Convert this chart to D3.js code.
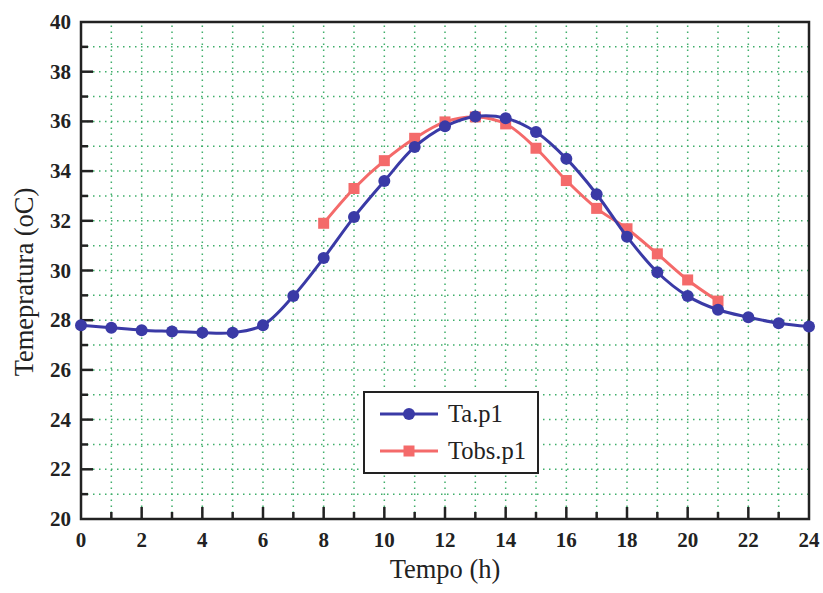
<!DOCTYPE html>
<html>
<head>
<meta charset="utf-8">
<script src="https://cdn.jsdelivr.net/npm/d3@7"></script>
<style>
  body { margin: 0; background: #fff; }
  text { font-family: "Liberation Serif", "DejaVu Serif", serif; fill: #222; }
</style>
</head>
<body>
<div id="chart"></div>
<script>
const W = 823, H = 593;
const margin = { top: 22, right: 14, bottom: 74, left: 81 };

// data
const hours = d3.range(0, 25);
const taP1 = [27.8, 27.7, 27.6, 27.55, 27.5, 27.5, 27.8, 28.97, 30.5, 32.15, 33.6, 34.97,
  35.8, 36.2, 36.13, 35.57, 34.5, 33.07, 31.36, 29.93, 28.97, 28.42, 28.12, 27.88, 27.75];
const tobsHours = d3.range(8, 22);
const tobsP1 = [31.9, 33.3, 34.42, 35.32, 35.98, 36.18, 35.9, 34.92, 33.62, 32.5, 31.68,
  30.67, 29.62, 28.77];
const xTicks = d3.range(0, 25, 2);
const yTicks = d3.range(20, 41, 2);

const blue = "#3a3aa6", red = "#f46a6a", gridColor = "#3fae6a";

const svg = d3.select("#chart").append("svg").attr("width", W).attr("height", H);

const x = d3.scaleLinear().domain([0, 24]).range([margin.left, W - margin.right]);
const y = d3.scaleLinear().domain([20, 40]).range([H - margin.bottom, margin.top]);

// dotted grid every unit
const grid = svg.append("g");
grid.selectAll("line.v").data(d3.range(1, 24)).enter().append("line")
  .attr("x1", d => x(d)).attr("x2", d => x(d))
  .attr("y1", y(20)).attr("y2", y(40))
  .attr("stroke", gridColor).attr("stroke-width", 1.5).attr("stroke-dasharray", "1.5,4.5");
grid.selectAll("line.h").data(d3.range(21, 40)).enter().append("line")
  .attr("y1", d => y(d)).attr("y2", d => y(d))
  .attr("x1", x(0)).attr("x2", x(24))
  .attr("stroke", gridColor).attr("stroke-width", 1.5).attr("stroke-dasharray", "1.5,4.5");

// frame
svg.append("rect")
  .attr("x", x(0)).attr("y", y(40))
  .attr("width", x(24) - x(0)).attr("height", y(20) - y(40))
  .attr("fill", "none").attr("stroke", "#222").attr("stroke-width", 2.5);

// inward ticks
const ticks = svg.append("g").attr("stroke", "#222").attr("stroke-width", 2.5);
ticks.selectAll("line.xt").data(d3.range(1, 24)).enter().append("line")
  .attr("x1", d => x(d)).attr("x2", d => x(d))
  .attr("y1", y(20)).attr("y2", d => y(20) - (d % 2 === 0 ? 12 : 7));
ticks.selectAll("line.yt").data(d3.range(21, 40)).enter().append("line")
  .attr("y1", d => y(d)).attr("y2", d => y(d))
  .attr("x1", x(0)).attr("x2", d => x(0) + (d % 2 === 0 ? 12 : 7));

// tick labels
svg.append("g").selectAll("text").data(xTicks).enter().append("text")
  .attr("x", d => x(d)).attr("y", y(20) + 28)
  .attr("text-anchor", "middle")
  .style("font-size", "21px").style("font-weight", "bold")
  .text(d => d);
svg.append("g").selectAll("text").data(yTicks).enter().append("text")
  .attr("x", x(0) - 10).attr("y", d => y(d) + 7)
  .attr("text-anchor", "end")
  .style("font-size", "21px").style("font-weight", "bold")
  .text(d => d);

// axis titles
svg.append("text")
  .attr("x", 445).attr("y", 578)
  .attr("text-anchor", "middle").style("font-size", "26.5px")
  .text("Tempo (h)");
svg.append("text")
  .attr("transform", "translate(33,282) rotate(-90)")
  .attr("text-anchor", "middle").style("font-size", "26.5px")
  .text("Temepratura (oC)");

const line = d3.line().curve(d3.curveCatmullRom.alpha(0.5))
  .x(d => x(d[0])).y(d => y(d[1]));

const taData = hours.map((h, i) => [h, taP1[i]]);
const tobsData = tobsHours.map((h, i) => [h, tobsP1[i]]);

svg.append("path").datum(tobsData).attr("d", line)
  .attr("fill", "none").attr("stroke", red).attr("stroke-width", 3);
svg.append("g").selectAll("rect").data(tobsData).enter().append("rect")
  .attr("x", d => x(d[0]) - 5.5).attr("y", d => y(d[1]) - 5.5)
  .attr("width", 11).attr("height", 11).attr("fill", red);

svg.append("path").datum(taData).attr("d", line)
  .attr("fill", "none").attr("stroke", blue).attr("stroke-width", 3);
svg.append("g").selectAll("circle").data(taData).enter().append("circle")
  .attr("cx", d => x(d[0])).attr("cy", d => y(d[1])).attr("r", 6)
  .attr("fill", blue);

// legend
const legend = svg.append("g").attr("transform", "translate(364,392)");
legend.append("rect").attr("width", 174).attr("height", 81)
  .attr("fill", "#fff").attr("stroke", "#222").attr("stroke-width", 2);
const entries = [
  { name: "Ta.p1", color: blue, shape: "circle" },
  { name: "Tobs.p1", color: red, shape: "square" }
];
entries.forEach((e, i) => {
  const cy = 22 + i * 37;
  legend.append("line").attr("x1", 16).attr("x2", 74).attr("y1", cy).attr("y2", cy)
    .attr("stroke", e.color).attr("stroke-width", 3);
  if (e.shape === "circle") {
    legend.append("circle").attr("cx", 45).attr("cy", cy).attr("r", 6).attr("fill", e.color);
  } else {
    legend.append("rect").attr("x", 39.5).attr("y", cy - 5.5).attr("width", 11).attr("height", 11)
      .attr("fill", e.color);
  }
  legend.append("text").attr("x", 84).attr("y", cy + 8)
    .style("font-size", "24.5px").text(e.name);
});
</script>
</body>
</html>
